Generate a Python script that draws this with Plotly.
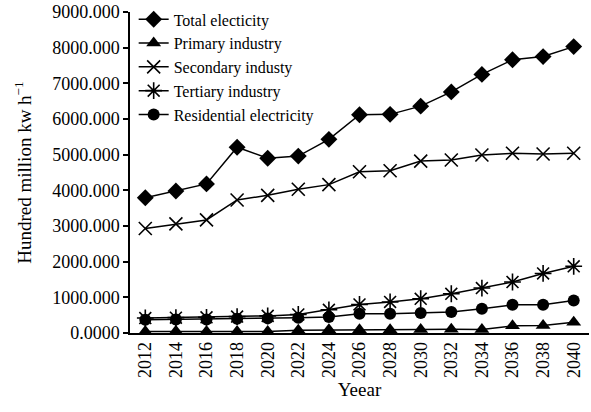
import plotly.graph_objects as go

# Projected electricity consumption (hundred million kW h) by sector
years = [2012, 2014, 2016, 2018, 2020, 2022, 2024, 2026, 2028, 2030, 2032, 2034, 2036, 2038, 2040]

total = [3790, 3980, 4180, 5210, 4900, 4960, 5430, 6120, 6130, 6360, 6760, 7250, 7660, 7750, 8030]
primary = [40, 50, 45, 40, 40, 80, 90, 90, 90, 100, 105, 100, 200, 210, 300]
secondary = [2930, 3060, 3170, 3730, 3860, 4030, 4160, 4520, 4550, 4820, 4850, 4990, 5040, 5020, 5040]
tertiary = [420, 430, 440, 460, 480, 520, 650, 800, 870, 960, 1100, 1260, 1430, 1670, 1870]
residential = [370, 380, 380, 400, 410, 430, 450, 540, 540, 560, 590, 680, 790, 790, 910]

y_ticks = [0, 1000, 2000, 3000, 4000, 5000, 6000, 7000, 8000, 9000]
y_tick_text = ["0.0000", "1000.000", "2000.000", "3000.000", "4000.000",
               "5000.000", "6000.000", "7000.000", "8000.000", "9000.000"]

FONT = "Liberation Serif, Times New Roman, serif"

series = [
    ("Total electicity", total, dict(symbol="diamond", size=13)),
    ("Primary industry", primary, dict(symbol="triangle-up", size=13)),
    ("Secondary industy", secondary, dict(symbol="x-thin-open", size=13, line=dict(width=1.6, color="black"))),
    ("Tertiary industry", tertiary, dict(symbol="asterisk-open", size=14, line=dict(width=1.6, color="black"))),
    ("Residential electricity", residential, dict(symbol="circle", size=12)),
]

fig = go.Figure()
for name, vals, marker in series:
    marker = dict(color="black", **marker)
    fig.add_trace(go.Scatter(
        x=years, y=vals, name=name, mode="lines+markers", cliponaxis=False,
        line=dict(color="black", width=1.5), marker=marker,
    ))

fig.update_layout(
    width=591, height=412,
    margin=dict(l=130, r=2, t=12, b=79),
    paper_bgcolor="white", plot_bgcolor="white",
    font=dict(family=FONT, size=18, color="black"),
    showlegend=True,
    legend=dict(
        x=0.008, y=1.03, xanchor="left", yanchor="top",
        bgcolor="rgba(0,0,0,0)", font=dict(family=FONT, size=16, color="black"),
        itemwidth=30, tracegroupgap=0,
    ),
    xaxis=dict(
        range=[2011, 2041], tickmode="array", tickvals=years,
        ticktext=[str(y) for y in years], tickangle=-90,
        showline=True, linecolor="black", linewidth=1.5,
        showgrid=False, zeroline=False, ticks="",
        tickfont=dict(family=FONT, size=18),
        title=dict(text="Yeear", font=dict(family=FONT, size=19), standoff=6),
    ),
    yaxis=dict(
        range=[0, 9000], tickmode="array", tickvals=y_ticks, ticktext=y_tick_text,
        showline=True, linecolor="black", linewidth=1.5,
        showgrid=False, zeroline=False, ticks="outside", ticklen=5,
        tickcolor="black", tickwidth=1.5,
        tickfont=dict(family=FONT, size=18),
        title=dict(text="Hundred million kw h<sup>\u22121</sup>",
                   font=dict(family=FONT, size=19), standoff=16),
    ),
)

fig.write_html("out.html")
